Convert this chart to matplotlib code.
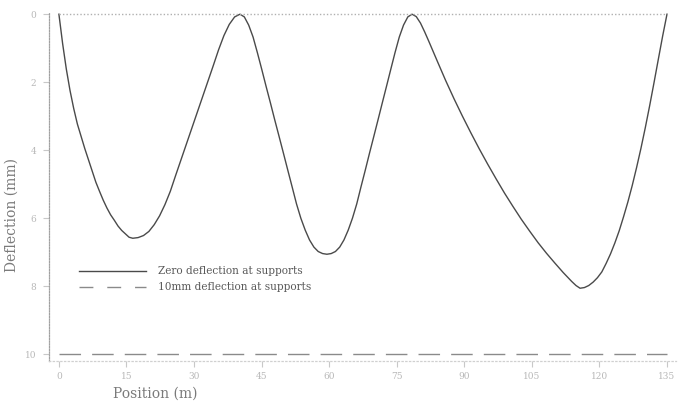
import matplotlib
matplotlib.use("Agg")
import matplotlib.pyplot as plt
from matplotlib.lines import Line2D

# Beam deflection along the deck, continuous over four supports
# (supports at 0, 40.2, 78.4 and 135 m)
position_m = [
    # span 1
    0.0, 0.82, 1.64, 2.46, 3.28, 4.10, 4.92, 5.74, 6.56, 7.38, 8.20, 9.02,
    9.84, 10.66, 11.48, 12.30, 13.12, 13.94, 14.76, 15.58, 16.40,
    17.59, 18.78, 19.97, 21.16, 22.35, 23.54, 24.73, 25.92, 27.11, 28.30,
    29.49, 30.68, 31.87, 33.06, 34.25, 35.44, 36.63, 37.82, 39.01, 40.20,
    # span 2
    41.17, 42.13, 43.10, 44.06, 45.03, 45.99, 46.96, 47.92, 48.89, 49.85,
    50.82, 51.78, 52.75, 53.71, 54.68, 55.64, 56.61, 57.57, 58.54, 59.50,
    60.45, 61.39, 62.34, 63.28, 64.23, 65.17, 66.12, 67.06, 68.01, 68.95,
    69.90, 70.84, 71.79, 72.73, 73.68, 74.62, 75.57, 76.51, 77.46, 78.40,
    # span 3
    79.33, 80.27, 81.20, 82.13, 84.00, 85.86, 87.73, 89.59, 91.46, 93.32,
    95.19, 97.05, 98.92, 100.78, 102.65, 104.51, 106.38, 108.24, 110.11,
    111.97, 113.84, 114.80, 115.70,
    116.67, 117.63, 118.60, 119.56, 120.53, 121.49, 122.46, 123.42, 124.39,
    125.35, 126.32, 127.28, 128.25, 129.21, 130.18, 131.14, 132.11, 133.07,
    134.04, 135.00,
]
deflection_zero_mm = [
    # span 1
    0.00, 0.86, 1.61, 2.24, 2.77, 3.23, 3.59, 3.95, 4.28, 4.61, 4.94, 5.21,
    5.47, 5.70, 5.90, 6.06, 6.23, 6.36, 6.46, 6.56, 6.59,
    6.57, 6.51, 6.39, 6.19, 5.93, 5.60, 5.21, 4.74, 4.28, 3.82,
    3.36, 2.90, 2.44, 1.98, 1.52, 1.05, 0.63, 0.30, 0.08, 0.00,
    # span 2
    0.08, 0.32, 0.67, 1.13, 1.62, 2.12, 2.61, 3.11, 3.60, 4.09,
    4.59, 5.08, 5.58, 6.00, 6.35, 6.64, 6.85, 6.98, 7.04, 7.06,
    7.04, 6.98, 6.85, 6.64, 6.35, 6.00, 5.58, 5.08, 4.59, 4.09,
    3.60, 3.11, 2.61, 2.12, 1.62, 1.13, 0.67, 0.32, 0.08, 0.00,
    # span 3
    0.07, 0.26, 0.52, 0.80, 1.38, 1.95, 2.49, 3.00, 3.49, 3.96,
    4.41, 4.84, 5.26, 5.65, 6.03, 6.38, 6.72, 7.03, 7.32,
    7.60, 7.86, 7.98, 8.06,
    8.04, 7.98, 7.88, 7.75, 7.58, 7.33, 7.05, 6.73, 6.37,
    5.96, 5.52, 5.04, 4.51, 3.95, 3.34, 2.70, 2.02, 1.33,
    0.64, 0.00,
]

# Settled-support case (held at the lower limit of the plotted range)
position_settled_m = [0.0, 135.0]
deflection_settled_mm = [10.0, 10.0]

x_ticks = [0, 15, 30, 45, 60, 75, 90, 105, 120, 135]
y_ticks = [0, 2, 4, 6, 8, 10]

series_labels = ["Zero deflection at supports", "10mm deflection at supports"]

fig = plt.figure(figsize=(6.79, 4.07), dpi=100)
ax = fig.add_axes([49 / 679, 1 - 361 / 407, 627 / 679, 348.5 / 407])

ax.plot(position_m, deflection_zero_mm, color="#4a4a4a", lw=1.0,
        solid_joinstyle="round", antialiased=True)
ax.plot(position_settled_m, deflection_settled_mm, color="#8a8a8a", lw=1.0,
        dashes=(15.5, 8))
# zero reference
ax.plot([0, 135], [0, 0], color="#b0b0b0", lw=1.0, ls=(0, (1, 1.5)))

ax.set_xlim(-2.2, 137)
ax.set_ylim(10.2, -0.05)

ax.set_xticks(x_ticks)
ax.set_yticks(y_ticks)
tick_font = dict(family="DejaVu Serif", size=6.5, color="#b8b8b8")
ax.set_xticklabels([str(v) for v in x_ticks], **tick_font)
ax.set_yticklabels([str(v) for v in y_ticks], **tick_font)
ax.tick_params(axis="both", colors="#c8c8c8", length=4, width=0.8)
ax.tick_params(axis="x", pad=4, labelcolor="#b8b8b8")
ax.tick_params(axis="y", pad=5, labelcolor="#b8b8b8")

for side in ("top", "right"):
    ax.spines[side].set_visible(False)
ax.spines["left"].set_color("#a0a0a0")
ax.spines["left"].set_linestyle((0, (1, 1.2)))
ax.spines["left"].set_linewidth(0.9)
ax.spines["bottom"].set_color("#d0d0d0")
ax.spines["bottom"].set_linestyle((0, (1, 2)))
ax.spines["bottom"].set_linewidth(0.9)
ax.patch.set_alpha(0)

handles = [
    Line2D([], [], color="#4a4a4a", lw=1.0),
    Line2D([], [], color="#8a8a8a", lw=1.0, dashes=(10, 10)),
]
leg = ax.legend(handles, series_labels, loc="upper left",
                bbox_to_anchor=(26 / 627, 1 - (262 - 12.3) / 348.5),
                frameon=False, handlelength=6.3, handletextpad=1.2,
                labelspacing=0.55, borderaxespad=0,
                prop=dict(family="DejaVu Serif", size=7.6))
for t in leg.get_texts():
    t.set_color("#5a5a5a")

fig.text(12 / 679, 1 - 215 / 407, "Deflection (mm)", rotation=90,
         ha="center", va="center", family="DejaVu Serif", size=10,
         color="#7a7a7a")
fig.text(155 / 679, 1 - 394 / 407, "Position (m)", ha="center", va="center",
         family="DejaVu Serif", size=10, color="#7a7a7a")

fig.savefig("out.png", dpi=100, facecolor="white")
